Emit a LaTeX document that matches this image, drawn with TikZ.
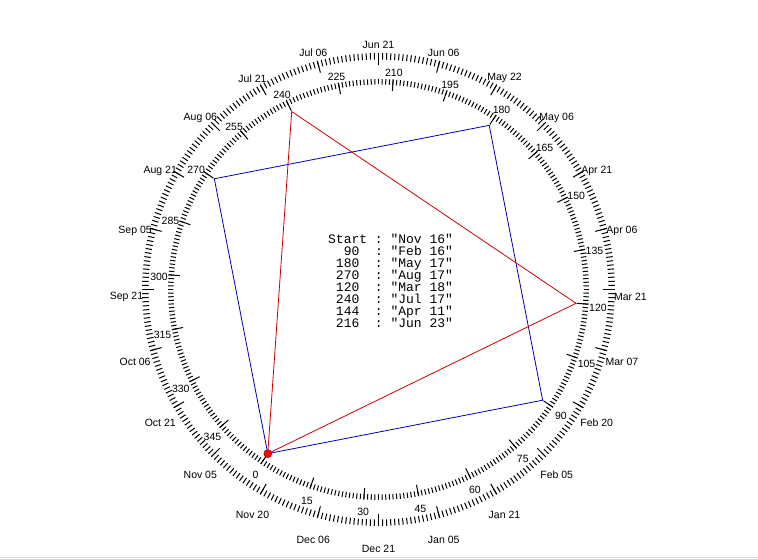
\documentclass[tikz,border=0pt]{standalone}
\usepackage{fontspec}
\setmainfont{Liberation Sans}
\setmonofont{Liberation Mono}
\usepackage{tikz}

\begin{document}
\begin{tikzpicture}[x=1pt,y=1pt]
    \tikzstyle{every node}=[font=\fontsize{10.5}{12}\selectfont, inner sep=0pt]
    \tikzstyle{ticks}=[line width=1pt]
    \tikzstyle{row}=[font=\ttfamily\fontsize{13}{12}\selectfont, anchor=base west]
    \tikzstyle{sqline}=[draw=blue!70!black, line width=.8pt]
    \tikzstyle{triline}=[draw=red!80!black, line width=.8pt]
    \tikzstyle{dot}=[circle, fill=red, draw=red!50!black, minimum size=8pt]
    \useasboundingbox (-378.5,-269.5) rectangle (379.5,289.5);

    % outer ring: dates
    \foreach \a in {0,...,359}
      \draw[ticks] (\a:230) -- (\a:236.5);
    \foreach \a/\d in {0/Mar 21, 15/Apr 06, 30/Apr 21, 45/May 06, 60/May 22,
        75/Jun 06, 90/Jun 21, 105/Jul 06, 120/Jul 21, 135/Aug 06, 150/Aug 21,
        165/Sep 05, 180/Sep 21, 195/Oct 06, 210/Oct 21, 225/Nov 05, 240/Nov 20,
        255/Dec 06, 270/Dec 21, 285/Jan 05, 300/Jan 21, 315/Feb 05, 330/Feb 20,
        345/Mar 07} {
      \draw[ticks] (\a:224.5) -- (\a:236.5);
      \node (date\a) at ([yshift=-7]\a:252) {\d};
    }

    % inner ring: degrees from the start
    \foreach \a in {0,...,359}
      \draw[ticks] (236+\a:205) -- (236+\a:210.5);
    \foreach \d in {0,15,...,345} {
      \draw[ticks] (236+\d:199) -- (236+\d:210.5);
      \node (deg\d) at ([yshift=-3]236+\d:220) {\d};
    }

    \foreach \d in {0,90,120,180,240,270}
      \coordinate (v\d) at (236+\d:198);
    \draw[sqline] (v0) -- (v90) -- (v180) -- (v270) -- cycle;
    \draw[triline] (v0) -- (v120) -- (v240) -- cycle;
    \node[dot] (start) at (v0) {};

    \foreach \txt [count=\i] in {Start~:~"Nov 16", ~~90~~:~"Feb 16",
        ~180~~:~"May 17", ~270~~:~"Aug 17", ~120~~:~"Mar 18",
        ~240~~:~"Jul 17", ~144~~:~"Apr 11", ~216~~:~"Jun 23"}
      \node[row] (row\i) at (-50.5, 57.5-12*\i) {\txt};

    \draw[gray!30] (-378.5,-267.5) -- (379.5,-267.5);
\end{tikzpicture}
\end{document}
